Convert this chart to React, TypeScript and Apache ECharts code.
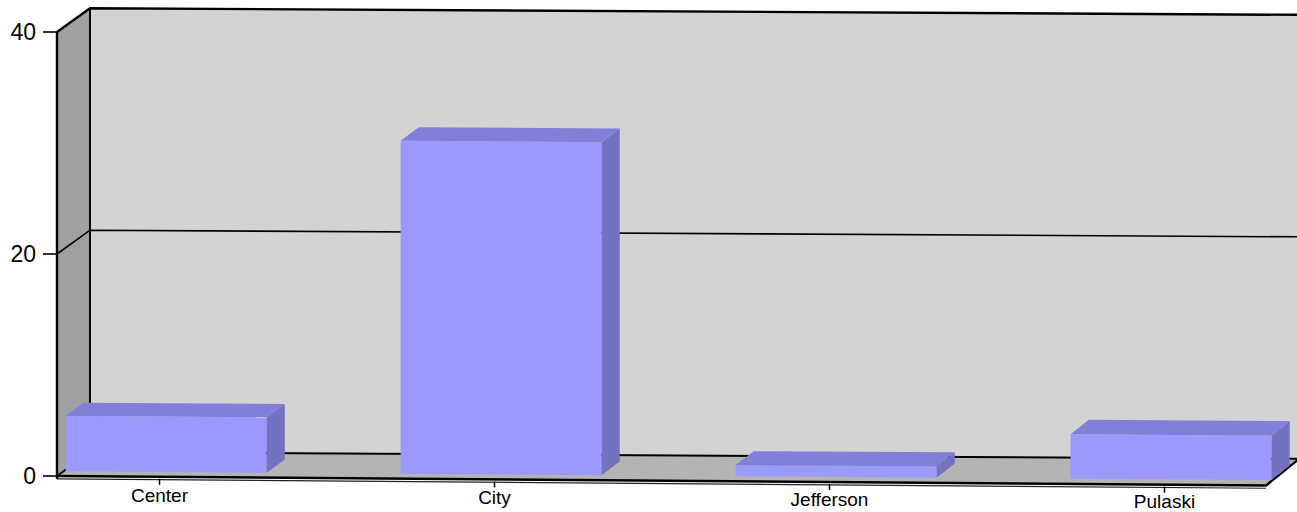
import React, { useEffect, useRef } from "react";
import * as echarts from "echarts";

// ---- data ----
const categories = ["Center", "City", "Jefferson", "Pulaski"];
const values = [5, 30, 1, 4];
const yTicks = [0, 20, 40];
const Y_MIN = 0;
const Y_MAX = 40;
const Y_INTERVAL = 20;

// ---- layout / style constants ----
const X_MIN = -0.306;
const X_MAX = 3.303;
const DEPTH_X = 33;
const DEPTH_Y = 24;
const BAR_HALF = 0.3;
const BAR_D0 = 0.2;
const BAR_D1 = 0.75;
const SHEAR_FRONT = 0.0078;
const SHEAR_BACK = 0.0055;
const LABEL_DY = 19;
const LABEL_SLOPE_FIX = 0.0018;
const Y_TICK_LEN = 14;
const FONT = "'Liberation Sans', Arial, sans-serif";

const C_BACK = "#d3d3d3";
const C_LEFT = "#a0a0a0";
const C_FLOOR = "#b4b4b4";
const C_FRONT = "#9999ff";
const C_TOP = "#8080d8";
const C_SIDE = "#7272c0";

function makeProj(api: any) {
  const origin = api.coord([X_MIN, Y_MIN]);
  const x0 = origin[0];
  return (xv: number, yv: number, d: number): number[] => {
    const p = api.coord([xv, yv]);
    const sx = p[0] + d * DEPTH_X;
    const k = SHEAR_FRONT + (SHEAR_BACK - SHEAR_FRONT) * d;
    const sy = p[1] - d * DEPTH_Y + k * (sx - x0);
    return [sx, sy];
  };
}

export default function App() {
  const ref = useRef<HTMLDivElement>(null);
  useEffect(() => {
    document.body.style.margin = "0";
    const chart = echarts.init(ref.current!, null, { renderer: "svg" });

    const frameItem = (_params: any, api: any) => {
      const P = makeProj(api);
      const fl = P(X_MIN, Y_MIN, 0);
      const fr = P(X_MAX, Y_MIN, 0);
      const bl = P(X_MIN, Y_MIN, 1);
      const br = P(X_MAX, Y_MIN, 1);
      const tl = P(X_MIN, Y_MAX, 0);
      const btl = P(X_MIN, Y_MAX, 1);
      const btr = P(X_MAX, Y_MAX, 1);
      const line = (pts: number[][], w: number, c = "#000") => ({
        type: "polyline",
        shape: { points: pts },
        style: { stroke: c, lineWidth: w, fill: null },
      });
      const children: any[] = [
        { type: "polygon", shape: { points: [btl, btr, br, bl] }, style: { fill: C_BACK } },
        { type: "polygon", shape: { points: [tl, btl, bl, fl] }, style: { fill: C_LEFT } },
        { type: "polygon", shape: { points: [fl, bl, br, fr] }, style: { fill: C_FLOOR } },
      ];
      yTicks.forEach((t) => {
        const p = P(X_MIN, t, 0);
        children.push(
          line(
            [
              [p[0] - Y_TICK_LEN, p[1]],
              [p[0], p[1]],
            ],
            1.6
          )
        );
      });
      yTicks
        .filter((t) => t > Y_MIN && t < Y_MAX)
        .forEach((t) => {
          children.push(line([P(X_MIN, t, 0), P(X_MIN, t, 1), P(X_MAX, t, 1)], 1.6));
        });
      children.push(line([tl, btl, btr], 2.4));
      children.push(line([fl, bl, br], 2));
      children.push(line([btl, bl], 2));
      children.push(line([btr, br], 1.5));
      children.push(
        line(
          [
            [fl[0], fl[1] + 2.8],
            [fr[0], fr[1] + 2.8],
          ],
          1.2,
          "#222"
        )
      );
      children.push(line([fl, fr, br], 2.4));
      children.push(line([tl, [fl[0], fl[1] + 3]], 2.4));
      return { type: "group", children };
    };

    const barItem = (_params: any, api: any) => {
      const P = makeProj(api);
      const i = api.value(0);
      const v = api.value(1);
      const xl = i - BAR_HALF;
      const xr = i + BAR_HALF;
      const fbl = P(xl, Y_MIN, BAR_D0);
      const fbr = P(xr, Y_MIN, BAR_D0);
      const ftl = P(xl, v, BAR_D0);
      const ftr = P(xr, v, BAR_D0);
      const bbr = P(xr, Y_MIN, BAR_D1);
      const btl = P(xl, v, BAR_D1);
      const btr = P(xr, v, BAR_D1);
      const base = P(i, Y_MIN, 0);
      const first = P(0, Y_MIN, 0);
      const labelY = base[1] + LABEL_DY - LABEL_SLOPE_FIX * (base[0] - first[0]);
      return {
        type: "group",
        children: [
          { type: "polygon", shape: { points: [ftl, ftr, fbr, fbl] }, style: { fill: C_FRONT } },
          { type: "polygon", shape: { points: [ftl, btl, btr, ftr] }, style: { fill: C_TOP } },
          { type: "polygon", shape: { points: [ftr, btr, bbr, fbr] }, style: { fill: C_SIDE } },
          {
            type: "line",
            shape: { x1: base[0], y1: base[1] + 2, x2: base[0], y2: base[1] + 8 },
            style: { stroke: "#000", lineWidth: 1.5 },
          },
          {
            type: "text",
            style: {
              text: categories[i],
              x: base[0],
              y: labelY,
              align: "center",
              verticalAlign: "middle",
              fontSize: 19,
              fontFamily: FONT,
              fill: "#000",
            },
          },
        ],
      };
    };

    chart.setOption({
      animation: false,
      backgroundColor: "#ffffff",
      grid: { left: 57, right: 31, top: 32, bottom: 36 },
      xAxis: { type: "value", min: X_MIN, max: X_MAX, show: false },
      yAxis: {
        type: "value",
        min: Y_MIN,
        max: Y_MAX,
        interval: Y_INTERVAL,
        axisLine: { show: false },
        axisTick: { show: false },
        axisLabel: { margin: 21, fontSize: 23, color: "#000", fontFamily: FONT },
        splitLine: { show: false },
      },
      series: [
        {
          type: "custom",
          name: "frame",
          clip: false,
          silent: true,
          z: 1,
          data: [[0, 0]],
          renderItem: frameItem,
        },
        {
          type: "custom",
          name: "bars",
          clip: false,
          silent: true,
          z: 2,
          encode: { x: 0, y: 1 },
          data: values.map((v, i) => [i, v]),
          renderItem: barItem,
        },
      ],
    });
    return () => chart.dispose();
  }, []);
  return <div ref={ref} style={{ width: 1297, height: 512 }} />;
}
